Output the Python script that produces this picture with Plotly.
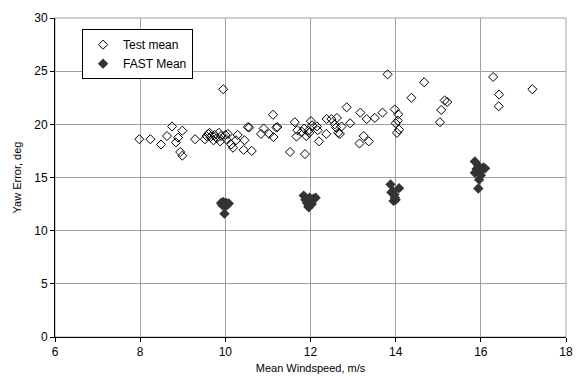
import plotly.graph_objects as go

test_x = [7.98, 8.24, 8.49, 8.63, 8.75, 8.84, 8.89, 8.94, 8.99, 8.99, 9.29, 9.52, 9.56, 9.60, 9.65,
          9.63, 9.72, 9.75, 9.80, 9.85, 9.88, 9.90, 9.95, 10.00, 10.02, 10.06, 10.14, 10.18, 10.25,
          10.29, 10.43, 10.45, 10.53, 10.56, 10.62, 10.84, 10.90, 11.03, 11.12, 11.13, 11.20, 11.22,
          11.52, 11.63, 11.67, 11.69, 11.80, 11.85, 11.87, 11.90, 11.95, 11.97, 12.01, 12.04, 12.15,
          12.17, 12.20, 12.37, 12.38, 12.49, 12.57, 12.60, 12.62, 12.65, 12.69, 12.73, 12.85, 12.93,
          13.15, 13.17, 13.25, 13.32, 13.37, 13.51, 13.69, 13.81, 13.98, 14.00, 14.03, 14.05, 14.06,
          14.08, 14.37, 14.67, 15.04, 15.07, 15.15, 15.21, 16.29, 16.42, 16.43, 17.21]
test_y = [18.6, 18.6, 18.1, 18.9, 19.8, 18.3, 18.75, 17.4, 17.05, 19.4, 18.6, 18.6, 18.9, 19.1, 18.8,
          19.2, 18.5, 19.0, 18.7, 19.2, 18.4, 18.9, 23.3, 19.0, 18.6, 19.1, 18.1, 17.8, 18.5,
          19.0, 17.6, 18.5, 19.75, 19.7, 17.5, 19.1, 19.6, 19.1, 20.9, 18.8, 19.7, 19.75,
          17.4, 20.2, 18.85, 19.45, 19.3, 19.6, 17.2, 18.9, 19.4, 19.2, 20.3, 19.9, 19.8,
          19.45, 18.4, 19.1, 20.5, 20.5, 20.0, 19.7, 20.6, 19.2, 19.1, 19.8, 21.6, 20.1,
          18.2, 21.1, 18.9, 20.5, 18.4, 20.6, 21.1, 24.7, 21.4, 20.1, 19.2, 20.35, 20.95,
          19.5, 22.5, 23.95, 20.2, 21.35, 22.25, 22.1, 24.45, 21.7, 22.8, 23.3]

fast_x = [9.90, 9.93, 9.95, 9.97, 10.00, 10.02, 10.05, 9.98, 10.08,
          11.84, 11.88, 11.92, 11.95, 11.98, 12.00, 12.03, 12.07, 12.12, 11.96,
          13.88, 14.08, 13.93, 13.97, 14.00, 13.95, 13.90, 13.98,
          15.86, 15.94, 16.06, 16.10, 15.90, 15.86, 15.98, 15.96, 15.94, 16.00]
fast_y = [12.6, 12.4, 12.7, 12.5, 12.3, 12.6, 12.45, 11.6, 12.55,
          13.3, 12.9, 12.6, 12.3, 13.1, 12.7, 12.5, 13.0, 13.1, 12.2,
          14.35, 14.0, 13.7, 13.4, 12.9, 12.8, 13.6, 13.1,
          16.5, 16.1, 15.95, 15.86, 15.8, 15.45, 15.5, 14.8, 13.97, 15.2]

x_ticks = [6, 8, 10, 12, 14, 16, 18]
y_ticks = [0, 5, 10, 15, 20, 25, 30]

FONT = "Liberation Sans, Arial, sans-serif"

fig = go.Figure()
fig.add_trace(go.Scatter(
    x=test_x, y=test_y, mode="markers", name="Test mean",
    marker=dict(symbol="diamond-open", size=7, color="black", line=dict(width=1, color="black")),
))
fig.add_trace(go.Scatter(
    x=fast_x, y=fast_y, mode="markers", name="FAST Mean",
    marker=dict(symbol="diamond", size=8, color="#333333", line=dict(width=0)),
))

fig.update_layout(
    width=584, height=383,
    margin=dict(l=55, r=12, t=11, b=43),
    paper_bgcolor="white", plot_bgcolor="white",
    font=dict(family=FONT, size=12, color="black"),
    showlegend=True,
    legend=dict(
        x=0.053, y=0.965, xanchor="left", yanchor="top",
        bgcolor="white", bordercolor="black", borderwidth=1,
        font=dict(family=FONT, size=12, color="black"),
        itemsizing="trace", itemwidth=30, tracegroupgap=0,
    ),
    xaxis=dict(
        range=[6, 18], tickvals=x_ticks, ticktext=[str(v) for v in x_ticks],
        showgrid=True, gridcolor="#a0a0a0", gridwidth=1,
        showline=True, linecolor="black", linewidth=1,
        ticks="outside", ticklen=4, tickcolor="black",
        zeroline=False,
        title=dict(text="Mean Windspeed, m/s", font=dict(family=FONT, size=11), standoff=5),
        tickfont=dict(family=FONT, size=12),
    ),
    yaxis=dict(
        range=[0, 30], tickvals=y_ticks, ticktext=[str(v) for v in y_ticks],
        showgrid=True, gridcolor="#a0a0a0", gridwidth=1,
        showline=True, linecolor="black", linewidth=1,
        ticks="outside", ticklen=4, tickcolor="black",
        zeroline=False,
        title=dict(text="Yaw Error, deg", font=dict(family=FONT, size=11), standoff=10),
        tickfont=dict(family=FONT, size=12),
    ),
    shapes=[dict(type="rect", xref="paper", yref="paper", x0=0, x1=1, y0=0, y1=1,
                 line=dict(color="#a0a0a0", width=1), layer="below")],
)

fig.write_html("out.html")
